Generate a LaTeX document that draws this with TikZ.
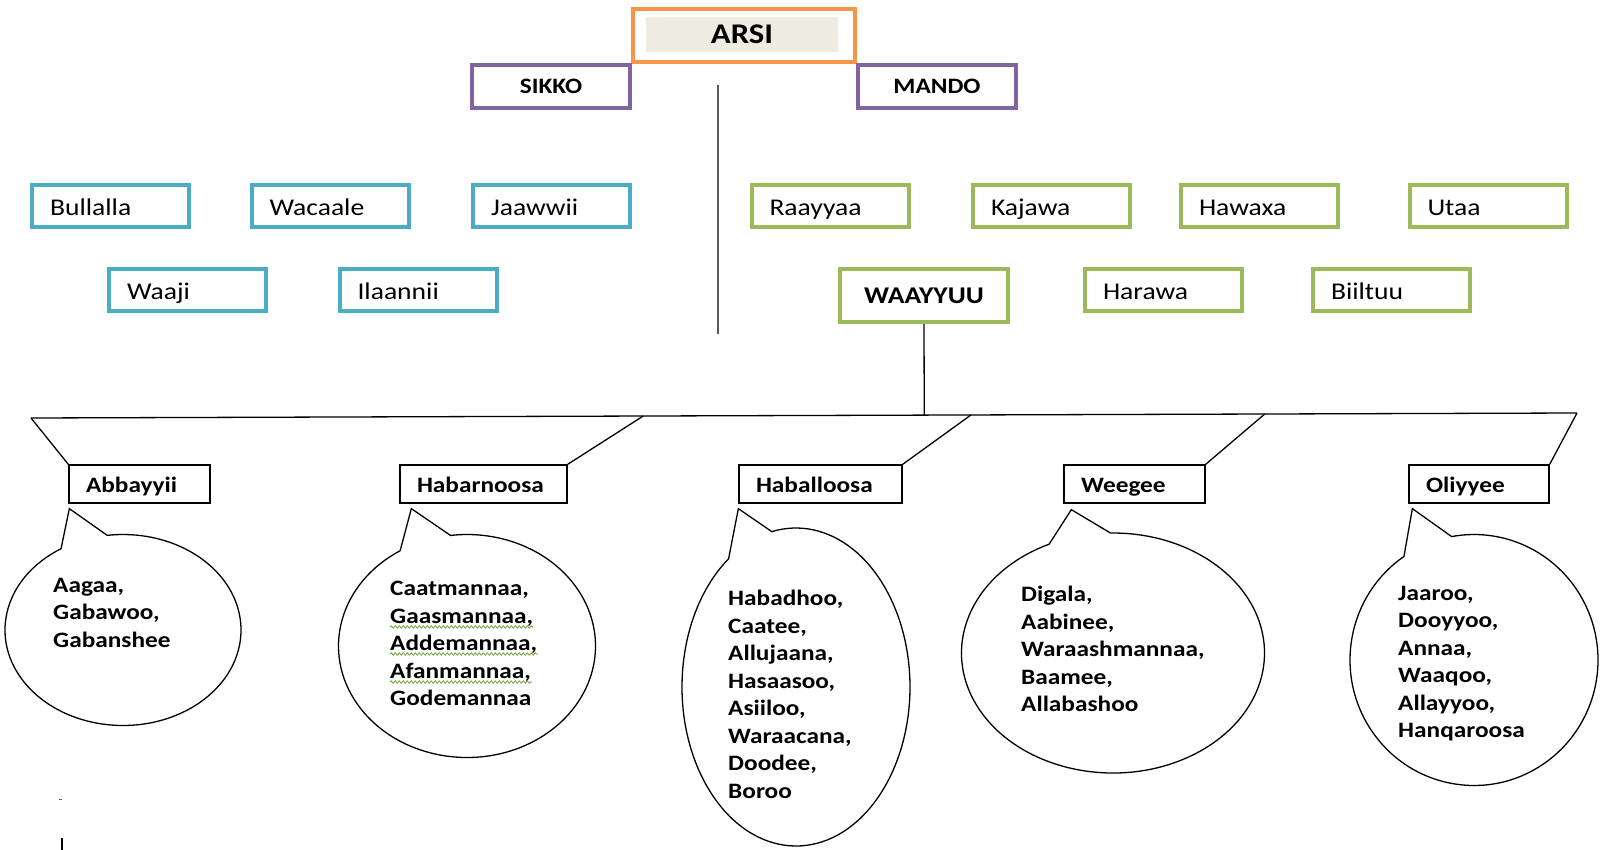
\documentclass[tikz,border=0pt]{standalone}
\usepackage{fontspec}
\setmainfont{Carlito}[FakeStretch=1.15]
\usetikzlibrary{shapes.callouts,calc,decorations.pathmorphing}
\definecolor{arsiorange}{HTML}{F79646}
\definecolor{arsigrey}{HTML}{EEECE1}
\definecolor{branchviolet}{HTML}{8064A2}
\definecolor{sikkoblue}{HTML}{4BACC6}
\definecolor{mandogreen}{HTML}{9BBB59}
\definecolor{divgrey}{HTML}{5A5A5A}
\definecolor{spellgreen}{HTML}{6FA33C}
\tikzset{
  branch/.style={draw=branchviolet,line width=4pt,minimum width=158pt,minimum height=43pt,inner sep=0pt,font=\fontsize{22}{26}\selectfont\bfseries},
  sikkoclan/.style={draw=sikkoblue,line width=4pt,minimum height=42pt,inner xsep=18pt,inner ysep=0pt,text width=121pt,text height=23pt,text depth=4pt,align=left,font=\fontsize{24}{28}\selectfont},
  mandoclan/.style={sikkoclan,draw=mandogreen},
  subclan/.style={draw,line width=1.3pt,minimum height=38pt,inner xsep=17pt,inner ysep=0pt,text width=#1,text height=20pt,text depth=4pt,align=left,font=\fontsize{22}{26}\selectfont\bfseries},
  bubble/.style={ellipse callout,draw,line width=1.3pt,inner sep=0pt,callout pointer arc=24},
  bubbletext/.style={anchor=north west,inner sep=0pt,align=left,font=\fontsize{22}{27.5}\selectfont\bfseries},
  link/.style={draw,line width=1.3pt},
  squiggle/.style={draw=spellgreen,line width=0.8pt,decorate,decoration={snake,amplitude=1.2pt,segment length=4pt}}
}
\begin{document}
\begin{tikzpicture}[x=1pt,y=-1pt]
\useasboundingbox (0,0) rectangle (1600,850);
\fill[white] (0,0) rectangle (1600,850);

\node[fill=arsigrey,minimum width=192pt,minimum height=35pt,inner sep=0pt,font=\fontsize{28.5}{32}\selectfont\bfseries] (arsi) at (742,34.5) {ARSI};
\draw[draw=arsiorange,line width=4pt] ([shift={(-13,-8)}]arsi.north west) rectangle ([shift={(17,10)}]arsi.south east);
\node[branch] (sikko) at (551,86.5) {SIKKO};
\node[branch] (mando) at (937,86.5) {MANDO};

\coordinate (divtop) at (718,85);
\coordinate (divbot) at (718,334);
\draw[draw=divgrey,line width=1.5pt] (divtop) -- (divbot);

\node[sikkoclan] (bullalla) at (110.5,206) {Bullalla};
\node[sikkoclan] (wacaale) at (330,206) {Wacaale};
\node[sikkoclan] (jaawwii) at (551.5,206) {Jaawwii};
\node[sikkoclan] (waaji) at (187.5,290) {Waaji};
\node[sikkoclan] (ilaannii) at (418,290) {Ilaannii};

\node[mandoclan] (raayyaa) at (830,206) {Raayyaa};
\node[mandoclan] (kajawa) at (1051.5,206) {Kajawa};
\node[mandoclan] (hawaxa) at (1259.5,206) {Hawaxa};
\node[mandoclan] (utaa) at (1488,206) {Utaa};
\node[draw=mandogreen,line width=4pt,minimum width=168pt,minimum height=53pt,inner sep=0pt,font=\fontsize{24}{28}\selectfont\bfseries] (waayyuu) at (924,295.5) {WAAYYUU};
\node[mandoclan] (harawa) at (1163.5,290) {Harawa};
\node[mandoclan] (biiltuu) at (1391.5,290) {Biiltuu};

\coordinate (barleft) at (31,418);
\coordinate (barright) at (1577,413);
\draw[link] (barleft) -- (barright);
\draw[link] (waayyuu.south) -- ($(barleft)!(waayyuu.south)!(barright)$);

\node[subclan=107pt] (abbayyii) at (139.5,484) {Abbayyii};
\node[subclan=133pt] (habarnoosa) at (483.5,484) {Habarnoosa};
\node[subclan=129pt] (haballoosa) at (820.5,484) {Haballoosa};
\node[subclan=107pt] (weegee) at (1134.5,484) {Weegee};
\node[subclan=106pt] (oliyyee) at (1479,484) {Oliyyee};

\coordinate (habjoin) at ($(barleft)!0.396!(barright)$);
\coordinate (haljoin) at ($(barleft)!0.608!(barright)$);
\coordinate (weejoin) at ($(barleft)!0.798!(barright)$);
\draw[link] (barleft) -- (abbayyii.north west);
\draw[link] (habjoin) -- (habarnoosa.north east);
\draw[link] (haljoin) -- (haballoosa.north east);
\draw[link] (weejoin) -- (weegee.north east);
\draw[link] (barright) -- (oliyyee.north east);

\node[bubble,minimum width=236pt,minimum height=191pt,callout absolute pointer={([shift={(1,5)}]abbayyii.south west)}] (abbayyiibubble) at (123,630) {};
\node[bubble,minimum width=257pt,minimum height=223pt,callout absolute pointer={([shift={(12,5)}]habarnoosa.south west)}] (habarnoosabubble) at (467,646) {};
\node[bubble,minimum width=228pt,minimum height=318pt,callout absolute pointer={([shift={(0,5)}]haballoosa.south west)}] (haballoosabubble) at (796,687) {};
\node[bubble,minimum width=303pt,minimum height=240pt,callout absolute pointer={([shift={(8,6)}]weegee.south west)}] (weegeebubble) at (1113,653) {};
\node[bubble,minimum width=248pt,minimum height=251pt,callout absolute pointer={([shift={(4,5)}]oliyyee.south west)}] (oliyyeebubble) at (1474,660) {};

\node[bubbletext] (abbayyiinames) at (53,578) {Aagaa,\\Gabawoo,\\Gabanshee};
\node[bubbletext] (habarnoosanames) at (390,581) {Caatmannaa,\\Gaasmannaa,\\Addemannaa,\\Afanmannaa,\\Godemannaa};
\node[bubbletext] (haballoosanames) at (728,590) {Habadhoo,\\Caatee,\\Allujaana,\\Hasaasoo,\\Asiiloo,\\Waraacana,\\Doodee,\\Boroo};
\node[bubbletext] (weegeenames) at (1021,586) {Digala,\\Aabinee,\\Waraashmannaa,\\Baamee,\\Allabashoo};
\node[bubbletext] (oliyyeenames) at (1398,586) {Jaaroo,\\Dooyyoo,\\Annaa,\\Waaqoo,\\Allayyoo,\\Hanqaroosa};

\foreach \dy/\len in {46/143,73/148,101/142}
  \draw[squiggle] ($(habarnoosanames.north west)+(0,\dy)$) -- +(\len,0);

\draw[draw=divgrey,line width=1pt] (59,799) -- (62,799);
\draw[line width=1.5pt] (62,838) -- (62,850);

\end{tikzpicture}
\end{document}
